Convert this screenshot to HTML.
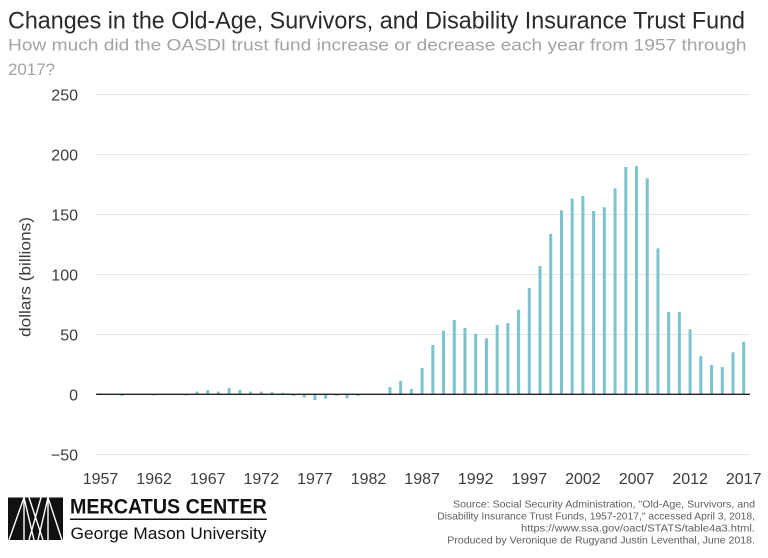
<!DOCTYPE html>
<html><head><meta charset="utf-8"><style>
html,body{margin:0;padding:0;background:#fff;}
svg{display:block;font-family:"Liberation Sans",sans-serif;}
</style></head><body>
<svg width="768" height="558" viewBox="0 0 768 558" xmlns="http://www.w3.org/2000/svg">
<rect width="768" height="558" fill="#fff"/>
<text x="8" y="28.5" font-size="24.5" fill="#2a2a2a" textLength="737" lengthAdjust="spacingAndGlyphs">Changes in the Old-Age, Survivors, and Disability Insurance Trust Fund</text>
<text x="8" y="50.7" font-size="17" fill="#a3a3a3" textLength="738.5" lengthAdjust="spacingAndGlyphs">How much did the OASDI trust fund increase or decrease each year from 1957 through</text>
<text x="8" y="75" font-size="17" fill="#a3a3a3" textLength="47" lengthAdjust="spacingAndGlyphs">2017?</text>
<g stroke="#e6e6e6" stroke-width="1">
<line x1="96" y1="94.5" x2="750" y2="94.5"/>
<line x1="96" y1="154.5" x2="750" y2="154.5"/>
<line x1="96" y1="214.5" x2="750" y2="214.5"/>
<line x1="96" y1="274.5" x2="750" y2="274.5"/>
<line x1="96" y1="334.5" x2="750" y2="334.5"/>
<line x1="96" y1="454.5" x2="750" y2="454.5"/>
</g>
<g font-size="16" fill="#3c3c3c" text-anchor="end">
<text x="78" y="100.3">250</text>
<text x="78" y="160.3">200</text>
<text x="78" y="220.3">150</text>
<text x="78" y="280.3">100</text>
<text x="78" y="340.3">50</text>
<text x="78" y="400.3">0</text>
<text x="78" y="460.3">−50</text>
</g>
<text transform="translate(30.5,277) rotate(-90)" font-size="16" fill="#3c3c3c" text-anchor="middle" textLength="120" lengthAdjust="spacingAndGlyphs">dollars (billions)</text>
<g fill="#7bc4ce">
<rect x="99.0" y="393.4" width="3" height="0.6"/>
<rect x="120.44" y="394" width="3" height="2"/>
<rect x="152.6" y="394" width="3" height="1.5"/>
<rect x="184.76" y="394" width="3" height="1.5"/>
<rect x="195.48" y="391.6" width="3" height="2.4"/>
<rect x="206.2" y="390" width="3" height="4"/>
<rect x="216.92" y="391.6" width="3" height="2.4"/>
<rect x="227.64" y="388" width="3" height="6"/>
<rect x="238.36" y="389.8" width="3" height="4.2"/>
<rect x="249.08" y="391.6" width="3" height="2.4"/>
<rect x="259.8" y="391.6" width="3" height="2.4"/>
<rect x="270.52" y="392.2" width="3" height="1.8"/>
<rect x="281.24" y="392.8" width="3" height="1.2"/>
<rect x="291.96" y="394" width="3" height="1.8"/>
<rect x="302.68" y="394" width="3" height="3.6"/>
<rect x="313.4" y="394" width="3" height="6"/>
<rect x="324.12" y="394" width="3" height="4.8"/>
<rect x="334.84" y="394" width="3" height="1.8"/>
<rect x="345.56" y="394" width="3" height="4.2"/>
<rect x="356.28" y="394" width="3" height="1.8"/>
<rect x="388.44" y="387" width="3" height="7"/>
<rect x="399.16" y="381" width="3" height="13"/>
<rect x="409.88" y="389" width="3" height="5"/>
<rect x="420.6" y="368" width="3" height="26"/>
<rect x="431.32" y="345" width="3" height="49"/>
<rect x="442.04" y="330.7" width="3" height="63.3"/>
<rect x="452.76" y="320" width="3" height="74"/>
<rect x="463.48" y="328" width="3" height="66"/>
<rect x="474.2" y="333.7" width="3" height="60.3"/>
<rect x="484.92" y="338.3" width="3" height="55.7"/>
<rect x="495.64" y="325" width="3" height="69"/>
<rect x="506.36" y="323" width="3" height="71"/>
<rect x="517.08" y="309.7" width="3" height="84.3"/>
<rect x="527.8" y="288" width="3" height="106"/>
<rect x="538.52" y="266" width="3" height="128"/>
<rect x="549.24" y="234" width="3" height="160"/>
<rect x="559.96" y="210.3" width="3" height="183.7"/>
<rect x="570.68" y="198.7" width="3" height="195.3"/>
<rect x="581.4" y="196" width="3" height="198"/>
<rect x="592.12" y="211" width="3" height="183"/>
<rect x="602.84" y="207.3" width="3" height="186.7"/>
<rect x="613.56" y="188.3" width="3" height="205.7"/>
<rect x="624.28" y="167" width="3" height="227"/>
<rect x="635.0" y="166" width="3" height="228"/>
<rect x="645.72" y="178.3" width="3" height="215.7"/>
<rect x="656.44" y="248.3" width="3" height="145.7"/>
<rect x="667.16" y="312" width="3" height="82"/>
<rect x="677.88" y="312" width="3" height="82"/>
<rect x="688.6" y="329.3" width="3" height="64.7"/>
<rect x="699.32" y="356" width="3" height="38"/>
<rect x="710.04" y="365" width="3" height="29"/>
<rect x="720.76" y="367" width="3" height="27"/>
<rect x="731.48" y="352.3" width="3" height="41.7"/>
<rect x="742.2" y="341.7" width="3" height="52.3"/>
</g>
<line x1="96" y1="394.3" x2="750" y2="394.3" stroke="#222" stroke-width="1.3"/>
<g font-size="16" fill="#3c3c3c" text-anchor="middle">
<text x="100.5" y="484">1957</text>
<text x="154.1" y="484">1962</text>
<text x="207.7" y="484">1967</text>
<text x="261.3" y="484">1972</text>
<text x="314.9" y="484">1977</text>
<text x="368.5" y="484">1982</text>
<text x="422.1" y="484">1987</text>
<text x="475.7" y="484">1992</text>
<text x="529.3" y="484">1997</text>
<text x="582.9" y="484">2002</text>
<text x="636.5" y="484">2007</text>
<text x="690.1" y="484">2012</text>
<text x="743.7" y="484">2017</text>
</g>
<rect x="8" y="497.5" width="55" height="42.5" fill="#111"/>
<g stroke="#fff" stroke-width="1.4" fill="none">
<line x1="9" y1="540" x2="24" y2="497.5"/>
<line x1="24" y1="497.5" x2="34" y2="540"/>
<line x1="29" y1="497.5" x2="43" y2="540"/>
<line x1="41" y1="497.5" x2="29" y2="540"/>
<line x1="38" y1="540" x2="48" y2="497.5"/>
<line x1="48" y1="497.5" x2="62" y2="540"/>
<line x1="24" y1="497.5" x2="24" y2="540"/>
<line x1="48" y1="497.5" x2="48" y2="540"/>
</g>
<text x="70" y="513.5" font-size="21.5" font-weight="bold" fill="#111" textLength="196.7" lengthAdjust="spacingAndGlyphs">MERCATUS CENTER</text>
<line x1="70" y1="519.3" x2="266.7" y2="519.3" stroke="#111" stroke-width="1.5"/>
<text x="70.5" y="539" font-size="17" fill="#111" textLength="196" lengthAdjust="spacingAndGlyphs">George Mason University</text>
<g font-size="10" fill="#5e5e5e" text-anchor="end">
<text x="755" y="507.7" textLength="302" lengthAdjust="spacingAndGlyphs">Source: Social Security Administration, "Old-Age, Survivors, and</text>
<text x="755" y="519.3" textLength="317.7" lengthAdjust="spacingAndGlyphs">Disability Insurance Trust Funds, 1957-2017," accessed April 3, 2018,</text>
<text x="755" y="531.5" textLength="234" lengthAdjust="spacingAndGlyphs">https://www.ssa.gov/oact/STATS/table4a3.html.</text>
<text x="755" y="543.3" textLength="307.7" lengthAdjust="spacingAndGlyphs">Produced by Veronique de Rugyand Justin Leventhal, June 2018.</text>
</g>
</svg>
</body></html>
